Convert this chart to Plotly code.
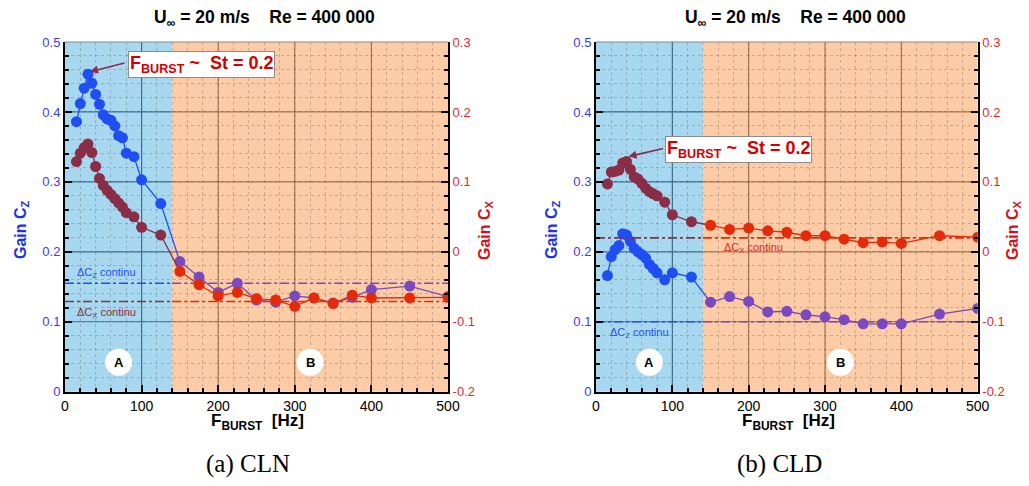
import plotly.graph_objects as go

W, H = 1029, 486
OFF = 8                      # page body margin of the browser
FW, FH = W - OFF, H - OFF    # figure size so the figure fills the window

# ---------------- data ----------------
freq_A = [15, 20, 25, 30, 35, 40, 45, 50, 55, 60, 65, 70, 75, 80, 90, 100, 125]
freq_B = [150, 175, 200, 225, 250, 275, 300, 325, 350, 375, 400, 450, 500]

cln_cz_A = [0.386, 0.412, 0.434, 0.454, 0.441, 0.425, 0.411, 0.396, 0.390, 0.388, 0.380,
            0.366, 0.363, 0.341, 0.336, 0.303, 0.269]
cln_cz_B = [0.186, 0.164, 0.142, 0.155, 0.131, 0.128, 0.137, 0.134, 0.127, 0.135, 0.146, 0.151, 0.136]
cln_cx_A = [0.129, 0.141, 0.149, 0.154, 0.142, 0.122, 0.105, 0.095, 0.088, 0.082, 0.076,
            0.070, 0.064, 0.056, 0.050, 0.035, 0.024]
cln_cx_B = [-0.028, -0.047, -0.063, -0.058, -0.067, -0.069, -0.078, -0.066, -0.074, -0.062,
            -0.066, -0.066, -0.065]

cld_cz_A = [0.166, 0.193, 0.203, 0.209, 0.226, 0.224, 0.215, 0.205, 0.200, 0.196, 0.191,
            0.182, 0.176, 0.170, 0.160, 0.170, 0.164]
cld_cz_B = [0.128, 0.136, 0.129, 0.114, 0.115, 0.110, 0.107, 0.103, 0.097, 0.097, 0.097, 0.111, 0.119]
cld_cx_A = [0.097, 0.114, 0.115, 0.117, 0.127, 0.129, 0.118, 0.107, 0.104, 0.098, 0.091,
            0.086, 0.083, 0.080, 0.071, 0.053, 0.043]
cld_cx_B = [0.038, 0.032, 0.034, 0.030, 0.028, 0.023, 0.023, 0.018, 0.013, 0.014, 0.012, 0.023, 0.021]

cz_continu = [0.155, 0.100]   # CLN, CLD
cx_continu = [-0.071, 0.020]  # CLN, CLD
boundary_AB = 140
peak_freq = [30, 40]          # frequency of the annotated point (CLN on Cz, CLD on Cx)

x_ticks = [0, 100, 200, 300, 400, 500]
cz_ticks = [0, 0.1, 0.2, 0.3, 0.4, 0.5]
cz_ticktext = ["0", "0.1", "0.2", "0.3", "0.4", "0.5"]
cx_ticks = [-0.2, -0.1, 0, 0.1, 0.2, 0.3]
cx_ticktext = ["-0.2", "-0.1", "0", "0.1", "0.2", "0.3"]
titles = ["U<sub>\u221e</sub> = 20 m/s\u00a0\u00a0\u00a0\u00a0Re = 400 000"] * 2
captions = ["(a) CLN", "(b) CLD"]

# ---------------- styles ----------------
FONT = "Liberation Sans, Arial, sans-serif"
C_BLUE = "#1f4ff2"
C_PURPLE = "#7a48bf"
C_MAROON = "#8a2d47"
C_RED = "#e52a0a"
BG_A = "#a7d8f0"
BG_B = "#fdcca6"
GRID_A = "#3a7393"
GRID_B = "#a8774f"
TICK_BLUE = "#3a3af0"
TICK_RED = "#e02a2a"


def px(x):   # window pixel -> paper x
    return (x - OFF) / FW


def py(y):   # window pixel -> paper y
    return 1 - (y - OFF) / FH


x_domains = [[px(65), px(448)], [px(596), px(977.7)]]
y_domain = [py(391.7), py(42)]

fig = go.Figure()
layout = dict(width=FW, height=FH, margin=dict(l=0, r=0, t=0, b=0, autoexpand=False),
              paper_bgcolor="white", plot_bgcolor="white", showlegend=False,
              font=dict(family=FONT, color="black"))
shapes, annotations = [], []


def label(text, x, y, size, color, family=FONT, **kw):
    d = dict(text=text, x=px(x), y=py(y), xref="paper", yref="paper", showarrow=False,
             xanchor="center", yanchor="middle", font=dict(size=size, color=color, family=family))
    d.update(kw)
    return d


panels = [
    (cln_cz_A, cln_cz_B, cln_cx_A, cln_cx_B),
    (cld_cz_A, cld_cz_B, cld_cx_A, cld_cx_B),
]

for p, (czA, czB, cxA, cxB) in enumerate(panels):
    xa = "x" if p == 0 else "x2"
    ya = "y" if p == 0 else "y3"
    ya2 = "y2" if p == 0 else "y4"
    xk = "xaxis" if p == 0 else "xaxis2"
    yk = "yaxis" if p == 0 else "yaxis3"
    yk2 = "yaxis2" if p == 0 else "yaxis4"

    common_ticks = dict(ticks="inside", ticklen=7, tickwidth=1.5, tickcolor="black",
                        showline=True, linecolor="black", linewidth=2, showgrid=False,
                        zeroline=False, automargin=False)
    layout[xk] = dict(domain=x_domains[p], anchor=ya, range=[0, 500], tickvals=x_ticks,
                      tickfont=dict(size=14, color="black", family=FONT),
                      minor=dict(dtick=20, ticks="inside", ticklen=4, tickcolor="black",
                                 showgrid=True, gridcolor="rgba(60,60,60,0.25)",
                                 griddash="dot", gridwidth=1),
                      **common_ticks)
    layout[yk] = dict(domain=y_domain, anchor=xa, range=[0, 0.5], tickvals=cz_ticks,
                      ticktext=cz_ticktext,
                      tickfont=dict(size=13, color=TICK_BLUE, family=FONT),
                      minor=dict(dtick=0.02, ticks="inside", ticklen=4, tickcolor="black",
                                 showgrid=True, gridcolor="rgba(60,60,60,0.25)",
                                 griddash="dot", gridwidth=1),
                      **common_ticks)
    layout[yk2] = dict(overlaying=ya, anchor=xa, side="right", range=[-0.2, 0.3],
                       tickvals=cx_ticks, ticktext=cx_ticktext,
                       tickfont=dict(size=13, color=TICK_RED, family=FONT),
                       minor=dict(dtick=0.02, ticks="inside", ticklen=4, tickcolor="black"),
                       **common_ticks)

    # background regions
    shapes.append(dict(type="rect", xref=xa, yref=f"{ya} domain", x0=0, x1=boundary_AB,
                       y0=0, y1=1, fillcolor=BG_A, line=dict(width=0), layer="below"))
    shapes.append(dict(type="rect", xref=xa, yref=f"{ya} domain", x0=boundary_AB, x1=500,
                       y0=0, y1=1, fillcolor=BG_B, line=dict(width=0), layer="below"))
    # major grid
    for v in x_ticks[1:-1]:
        shapes.append(dict(type="line", xref=xa, yref=f"{ya} domain", x0=v, x1=v, y0=0, y1=1,
                           line=dict(color=GRID_A if v < boundary_AB else GRID_B, width=1.2),
                           layer="below"))
    for v in cz_ticks[1:-1]:
        shapes.append(dict(type="line", xref=xa, yref=ya, x0=0, x1=boundary_AB, y0=v, y1=v,
                           line=dict(color=GRID_A, width=1.2), layer="below"))
        shapes.append(dict(type="line", xref=xa, yref=ya, x0=boundary_AB, x1=500, y0=v, y1=v,
                           line=dict(color=GRID_B, width=1.2), layer="below"))
    # top border
    shapes.append(dict(type="line", xref=f"{xa} domain", yref=f"{ya} domain", x0=0, x1=1,
                       y0=1, y1=1, line=dict(color="#888888", width=1), layer="above"))

    # continuous-blowing reference lines (dash-dot)
    for vals, yax, cA, cB in ((cz_continu, ya, C_BLUE, C_PURPLE), (cx_continu, ya2, C_MAROON, C_RED)):
        fig.add_trace(go.Scatter(x=[0, boundary_AB], y=[vals[p]] * 2, mode="lines", xaxis=xa, yaxis=yax,
                                 line=dict(color=cA, width=1.6, dash="dashdot"), hoverinfo="skip"))
        fig.add_trace(go.Scatter(x=[boundary_AB, 500], y=[vals[p]] * 2, mode="lines", xaxis=xa, yaxis=yax,
                                 line=dict(color=cB, width=1.6, dash="dashdot"), hoverinfo="skip"))

    # data series
    for valsA, valsB, yax, cA, cB in ((czA, czB, ya, C_BLUE, C_PURPLE), (cxA, cxB, ya2, C_MAROON, C_RED)):
        fig.add_trace(go.Scatter(x=freq_A + freq_B[:1], y=valsA + valsB[:1], mode="lines",
                                 xaxis=xa, yaxis=yax, line=dict(color=cA, width=1.3)))
        fig.add_trace(go.Scatter(x=freq_B, y=valsB, mode="lines+markers", xaxis=xa, yaxis=yax,
                                 line=dict(color=cB, width=1.3),
                                 marker=dict(color=cB, size=11, line=dict(width=0))))
        fig.add_trace(go.Scatter(x=freq_A, y=valsA, mode="markers", xaxis=xa, yaxis=yax,
                                 marker=dict(color=cA, size=11, line=dict(width=0))))

    # A / B circles
    for lab, fx in (("A", 70), ("B", 320)):
        shapes.append(dict(type="circle", xref=xa, yref=ya, xsizemode="pixel", ysizemode="pixel",
                           xanchor=fx, yanchor=0.042, x0=-13.5, x1=13.5, y0=-13.5, y1=13.5,
                           fillcolor="white", line=dict(width=0), layer="above"))
        annotations.append(dict(text=f"<b>{lab}</b>", x=fx, y=0.042, xref=xa, yref=ya,
                                xanchor="center", yanchor="middle",
                                showarrow=False, font=dict(size=13, color="black", family=FONT)))

    off = 0 if p == 0 else (596 - 65)
    annotations.append(label(f"<b>{titles[p]}</b>", 264 + off, 18, 17.5, "black"))
    annotations.append(label("<b>F<sub>BURST</sub>\u00a0\u00a0[Hz]</b>", 257 + off, 422, 17, "black"))
    annotations.append(label(captions[p], 248 if p == 0 else 779, 464, 25, "black",
                             family="Liberation Serif, serif"))
    annotations.append(label("<b>Gain C<sub>Z</sub></b>", 22 + off, 230, 16, "#2030f0", textangle=-90))
    annotations.append(label("<b>Gain C<sub>X</sub></b>", (486 if p == 0 else 1014), 230, 16,
                             "#d8101a", textangle=-90))

# continu labels
annotations += [
    label("\u0394C<sub>Z</sub> continu", 75, 273, 11, C_BLUE, xanchor="left"),
    label("\u0394C<sub>X</sub> continu", 75, 313, 11, C_MAROON, xanchor="left"),
    label("\u0394C<sub>X</sub> continu", 722, 248, 11, C_RED, xanchor="left"),
    label("\u0394C<sub>Z</sub> continu", 608, 333, 11, C_BLUE, xanchor="left"),
]

# F_BURST ~ St annotations
box_txt = "<b>F<sub>BURST</sub> ~\u00a0\u00a0St = 0.2</b>"
for cx, cy in ((201.7, 64.3), (738.3, 149.2)):
    annotations.append(label(box_txt, cx, cy, 18, "#d40000", bgcolor="white",
                             bordercolor="#8c8c8c", borderwidth=1, borderpad=1))
# arrows pointing at the peak points
pk0 = freq_A.index(peak_freq[0])
pk1 = freq_A.index(peak_freq[1])
annotations.append(dict(text="", x=freq_A[pk0], y=cln_cz_A[pk0], xref="x", yref="y",
                        xshift=2, yshift=2.5, ax=36, ay=-9, showarrow=True, arrowhead=2,
                        arrowsize=1, arrowwidth=1.6, arrowcolor=C_MAROON))
annotations.append(dict(text="", x=freq_A[pk1], y=cld_cx_A[pk1], xref="x2", yref="y4",
                        xshift=2, yshift=5, ax=36, ay=-8.5, showarrow=True, arrowhead=2,
                        arrowsize=1, arrowwidth=1.6, arrowcolor=C_MAROON))

layout["shapes"] = shapes
layout["annotations"] = annotations
fig.update_layout(**layout)
fig.write_html("out.html")
